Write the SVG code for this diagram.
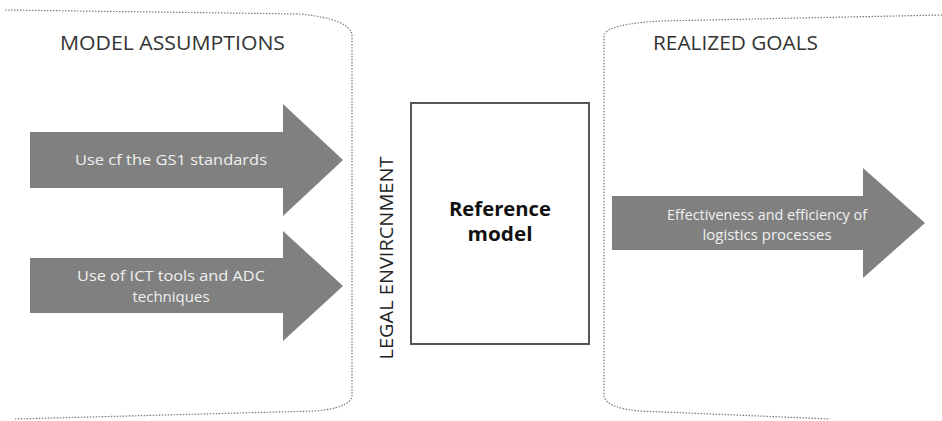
<svg xmlns="http://www.w3.org/2000/svg" width="942" height="421" viewBox="0 0 942 421">
<style>
.bracket{fill:none;stroke:#7a7a7a;stroke-width:1.2;stroke-dasharray:1.5 1.5}
.arrow{fill:#808080}
.atext{fill:#f0f0f0;font-family:"Open Sans","Liberation Sans",Arial,sans-serif;font-size:15px;text-anchor:middle}
.head{fill:#333;font-family:"Open Sans","Liberation Sans",Arial,sans-serif;font-size:20px}
.box{fill:#fff;stroke:#555;stroke-width:2}
.btext{fill:#111;font-family:"Open Sans","Liberation Sans",Arial,sans-serif;font-size:20px;font-weight:bold;text-anchor:middle}
.vtext{fill:#222;font-family:"Open Sans","Liberation Sans",Arial,sans-serif;font-size:18px;text-anchor:middle}
</style>
<rect width="942" height="421" fill="#fff"/>
<g id="left-bracket">
<path class="bracket" d="M5,10 L300,14 Q350,19 352,35 L352,396 Q350,408 315,411 L15,419"/>
<text class="head" x="60" y="50" textLength="225" lengthAdjust="spacingAndGlyphs">MODEL ASSUMPTIONS</text>
</g>
<g id="right-bracket">
<path class="bracket" d="M942,15 L660,21 Q608,24 604,35 L604,396 Q606,408 640,411 L830,419"/>
<text class="head" x="653" y="50" textLength="165" lengthAdjust="spacingAndGlyphs">REALIZED GOALS</text>
</g>
<g id="arrow-gs1">
<polygon class="arrow" points="30,132 283,132 283,104 343,160 283,216 283,188 30,188"/>
<text class="atext" x="171" y="165" textLength="192" lengthAdjust="spacingAndGlyphs">Use cf the GS1 standards</text>
</g>
<g id="arrow-ict">
<polygon class="arrow" points="30,258 283,258 283,231 343,286 283,341 283,313 30,313"/>
<text class="atext" x="171" y="281" textLength="188" lengthAdjust="spacingAndGlyphs">Use of ICT tools and ADC</text>
<text class="atext" x="171" y="302">techniques</text>
</g>
<g id="legal-environment">
<text class="vtext" transform="translate(393,258) rotate(-90)" x="0" y="0" textLength="203" lengthAdjust="spacingAndGlyphs">LEGAL ENVIRCNMENT</text>
</g>
<g id="reference-model">
<rect class="box" x="411" y="103" width="178" height="241"/>
<text class="btext" x="500" y="216" textLength="102" lengthAdjust="spacingAndGlyphs">Reference</text>
<text class="btext" x="500" y="241" textLength="65" lengthAdjust="spacingAndGlyphs">model</text>
</g>
<g id="arrow-goals">
<polygon class="arrow" points="612,196 863,196 863,168 925,223 863,278 863,250 612,250"/>
<text class="atext" x="767" y="220" textLength="200" lengthAdjust="spacingAndGlyphs">Effectiveness and efficiency of</text>
<text class="atext" x="767" y="240">logistics processes</text>
</g>
<g id="connectors"></g>
</svg>
